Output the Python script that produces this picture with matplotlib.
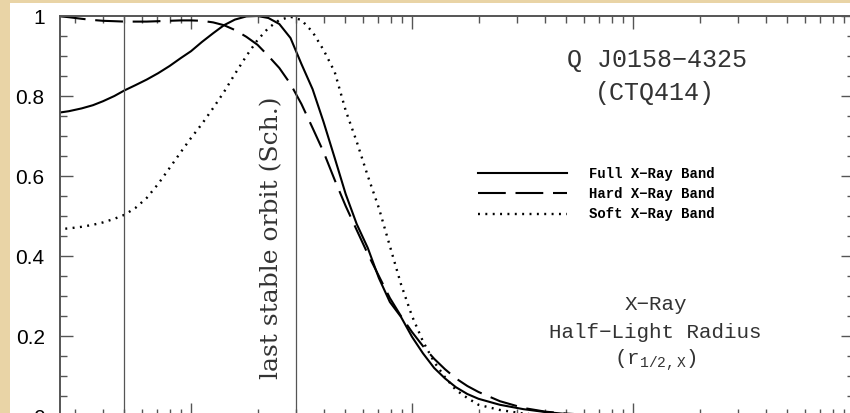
import matplotlib
matplotlib.use("Agg")
import matplotlib.pyplot as plt
from matplotlib.patches import Rectangle

# Radius grid (log scale, arbitrary units; one decade per major tick)
radius = [0.25, 0.28, 0.32, 0.36, 0.40, 0.45, 0.50, 0.56, 0.63, 0.71, 0.80, 0.90,
          1.00, 1.12, 1.26, 1.41, 1.58, 1.78, 2.00, 2.24, 2.51, 2.82, 3.16, 3.55,
          3.98, 4.47, 5.01, 5.62, 6.31, 7.08, 7.94, 8.91, 10.0, 11.2, 12.6, 14.1,
          15.8, 17.8, 20.0, 25.0, 32.0, 40.0, 50.0, 63.0, 80.0, 100.0]

full_band = [0.758, 0.762, 0.769, 0.777, 0.787, 0.800, 0.814, 0.827, 0.841, 0.857,
             0.875, 0.895, 0.912, 0.935, 0.957, 0.977, 0.991, 0.999, 1.000, 0.995,
             0.980, 0.945, 0.880, 0.817, 0.735, 0.645, 0.555, 0.480, 0.420, 0.345,
             0.285, 0.248, 0.198, 0.157, 0.120, 0.094, 0.072, 0.055, 0.043, 0.028,
             0.017, 0.010, 0.005, 0.002, 0.001, 0.000]

hard_band = [1.000, 0.997, 0.993, 0.990, 0.988, 0.987, 0.986, 0.986, 0.986, 0.987,
             0.988, 0.989, 0.989, 0.988, 0.984, 0.977, 0.965, 0.948, 0.928, 0.900,
             0.870, 0.830, 0.780, 0.720, 0.660, 0.590, 0.525, 0.465, 0.405, 0.350,
             0.295, 0.250, 0.210, 0.175, 0.143, 0.117, 0.094, 0.075, 0.060, 0.037,
             0.020, 0.011, 0.006, 0.003, 0.001, 0.000]

soft_band = [0.467, 0.469, 0.473, 0.478, 0.484, 0.493, 0.503, 0.520, 0.545, 0.580,
             0.620, 0.660, 0.695, 0.730, 0.770, 0.810, 0.855, 0.900, 0.940, 0.970,
             0.990, 0.998, 0.990, 0.960, 0.915, 0.860, 0.764, 0.686, 0.600, 0.520,
             0.425, 0.330, 0.250, 0.187, 0.135, 0.097, 0.065, 0.045, 0.028, 0.015,
             0.006, 0.002, 0.001, 0.000, 0.000, 0.000]

band_labels = ["Full X\u2212Ray Band", "Hard X\u2212Ray Band", "Soft X\u2212Ray Band"]

inner_radius = 0.5          # left vertical marker
last_stable_orbit = 3.0     # Schwarzschild last stable orbit

y_ticks = [0.0, 0.2, 0.4, 0.6, 0.8, 1.0]
y_tick_labels = ["0", "0.2", "0.4", "0.6", "0.8", "1"]

plt.rcParams["lines.scale_dashes"] = False
plt.rcParams["mathtext.fontset"] = "custom"
plt.rcParams["mathtext.rm"] = "Liberation Mono"
plt.rcParams["mathtext.it"] = "Liberation Mono"

W, H = 850, 413
fig = plt.figure(figsize=(W / 100, H / 100), dpi=100)
fig.patch.set_facecolor("#E9D4A6")
# white page area
fig.patches.append(Rectangle((10 / W, 0), 1, (H - 3) / H, transform=fig.transFigure,
                             facecolor="white", edgecolor="none", zorder=-5))

ax = fig.add_axes([60 / W, -3 / H, 794 / W, 400 / H])
ax.set_zorder(2)
ax.set_facecolor("white")
ax.set_xscale("log")
ax.set_xlim(10 ** (3 - 794 / 221), 1000)
ax.set_ylim(0, 1)

ink = "black"
ax.plot(radius, full_band, color=ink, lw=1.5, label=band_labels[0])
ax.plot(radius, hard_band, color=ink, lw=1.5, dashes=(20, 7), label=band_labels[1])
ax.plot(radius, soft_band, color=ink, lw=1.7, dashes=(1.4, 3.9), label=band_labels[2])

for xv in (inner_radius, last_stable_orbit):
    ax.axvline(xv, color="#555555", lw=0.9)

ax.set_yticks(y_ticks)
ax.yaxis.set_minor_locator(matplotlib.ticker.MultipleLocator(0.05))
ax.xaxis.set_major_formatter(matplotlib.ticker.NullFormatter())
ax.xaxis.set_minor_formatter(matplotlib.ticker.NullFormatter())
ax.tick_params(which="both", direction="in", top=True, right=True, color="#555555",
               width=1.0)
ax.tick_params(which="major", length=9.5, labelsize=15, pad=11)
ax.tick_params(which="minor", length=5)
ax.set_yticklabels(y_tick_labels, fontfamily="Liberation Sans")
for sp in ax.spines.values():
    sp.set_color("#555555")
    sp.set_linewidth(1.4)

# annotations
ax.text(2.33, 0.445, "last stable orbit (Sch.)", rotation=90, ha="center", va="center",
        fontsize=18, family="DejaVu Serif", color="#333333")

mono = ["Liberation Mono", "DejaVu Sans Mono"]
ax.text(0.752, 0.89, "Q J0158\u22124325", transform=ax.transAxes, ha="center",
        va="center", fontsize=18, family=mono, color="#333333")
ax.text(0.749, 0.8075, "(CTQ414)", transform=ax.transAxes, ha="center",
        va="center", fontsize=18, family=mono, color="#333333")
ax.text(0.750, 0.2775, "X\u2212Ray", transform=ax.transAxes, ha="center",
        va="center", fontsize=15, family=mono, color="#333333")
ax.text(0.750, 0.2075, "Half\u2212Light Radius", transform=ax.transAxes, ha="center",
        va="center", fontsize=15, family=mono, color="#333333")
ax.text(0.750, 0.14, r"(r$_{\mathrm{1/2,X}}$)", transform=ax.transAxes, ha="center",
        va="center", fontsize=15, family=mono, color="#333333")

leg = ax.legend(loc="upper left", bbox_to_anchor=((478 - 60) / 794, (416 - 167) / 400),
                frameon=False, handlelength=6.4, handletextpad=1.6, labelspacing=0.45,
                borderaxespad=0, borderpad=0,
                prop={"family": mono, "size": 10, "weight": "bold"})

fig.savefig("out.png", dpi=100, facecolor=fig.get_facecolor())
